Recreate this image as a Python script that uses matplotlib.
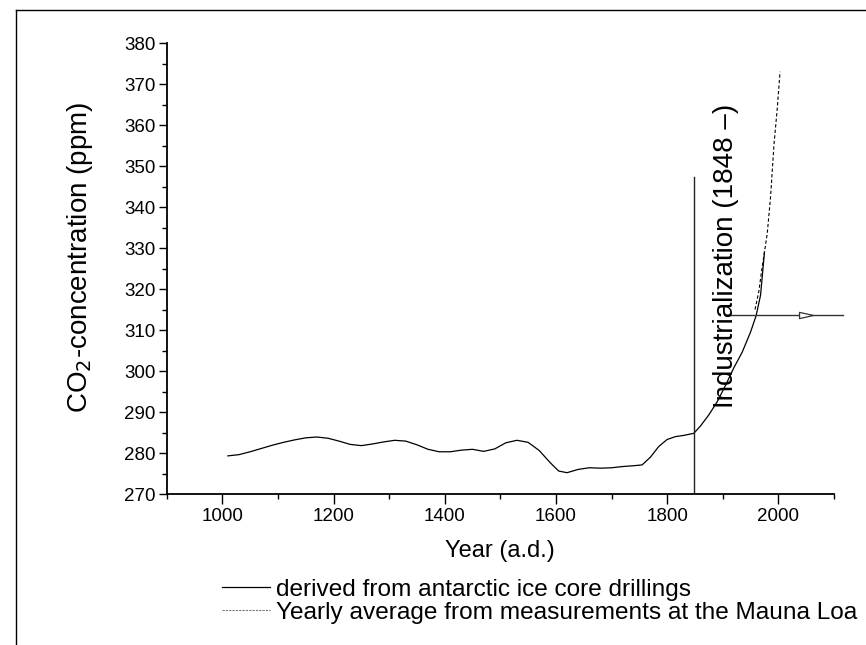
import matplotlib
matplotlib.use("Agg")
import matplotlib.pyplot as plt
from matplotlib.lines import Line2D
from matplotlib.path import Path
from matplotlib.ticker import MultipleLocator

plt.rcParams['font.family'] = ['Liberation Sans', 'DejaVu Sans']

# CO2 from antarctic ice cores (year, ppm)
ice_years = [1010, 1030, 1050, 1070, 1090, 1110, 1130, 1150, 1170, 1190,
             1210, 1230, 1250, 1270, 1290, 1310, 1330, 1350, 1370, 1390,
             1410, 1430, 1450, 1470, 1490, 1510, 1530, 1550, 1570, 1590,
             1605, 1620, 1640, 1660, 1680, 1700, 1720, 1740, 1755, 1770,
             1785, 1800, 1815, 1830, 1848, 1860, 1875, 1890, 1905, 1920,
             1935, 1950, 1960, 1968, 1975]
ice_ppm = [279.3, 279.6, 280.3, 281.1, 281.9, 282.6, 283.2, 283.7, 283.9, 283.6,
           282.9, 282.1, 281.8, 282.2, 282.7, 283.1, 282.9, 282.0, 280.9, 280.3,
           280.3, 280.7, 280.9, 280.4, 281.0, 282.5, 283.1, 282.6, 280.6, 277.6,
           275.6, 275.2, 276.0, 276.4, 276.3, 276.4, 276.7, 276.9, 277.1, 279.0,
           281.6, 283.3, 284.0, 284.3, 284.8, 286.6, 289.3, 292.5, 296.5, 300.8,
           304.6, 309.5, 313.5, 318.5, 329.0]

# Mauna Loa yearly averages
ml_years = [1958, 1965, 1970, 1975, 1980, 1986, 1992, 1998, 2003]
ml_ppm = [315.0, 319.5, 324.5, 329.0, 333.5, 342.5, 355.0, 364.0, 373.0]

industrial_year = 1848
industrial_top = 347.2
arrow_level = 313.7
arrow_span = (1908, 2116)
arrow_tip = 2050

fig = plt.figure(figsize=(8.66, 6.45), dpi=100)
ax = fig.add_axes([0.1925, 0.2341, 0.7705, 0.6992])

ax.plot(ice_years, ice_ppm, color='black', lw=0.9,
        label='derived from antarctic ice core drillings')
ax.plot(ml_years, ml_ppm, color='black', lw=0.8, ls=(0, (3, 2)))
# legend handle for the Mauna Loa series is a finer grey dash
ml_handle = Line2D([], [], color='#777777', lw=0.8, ls=(0, (2, 1)),
                   label='Yearly average from measurements at the Mauna Loa')

# industrialization marker
ax.plot([industrial_year, industrial_year], [270, industrial_top],
        color='#222222', lw=1.0)
ax.text(1882, 291, 'Industrialization (1848 \u2013)', rotation=90,
        fontsize=20, ha='left', va='bottom')
ax.plot(arrow_span, [arrow_level, arrow_level], color='#333333', lw=1.0,
        clip_on=False)
slim_head = Path([(-1, -0.45), (1, 0), (-1, 0.45), (-1, -0.45)],
                 [Path.MOVETO, Path.LINETO, Path.LINETO, Path.CLOSEPOLY])
ax.plot([arrow_tip], [arrow_level], marker=slim_head, ms=10, mfc='white',
        mec='#333333', mew=0.9, clip_on=False)

ax.set_xlim(900, 2100)
ax.set_ylim(270, 380)
ax.xaxis.set_minor_locator(MultipleLocator(100))
ax.yaxis.set_major_locator(MultipleLocator(10))
ax.yaxis.set_minor_locator(MultipleLocator(5))
ax.set_xticks([1000, 1200, 1400, 1600, 1800, 2000])
ax.tick_params(axis='x', which='major', length=7.2, width=1.0, labelsize=13.5, pad=3)
ax.tick_params(axis='x', which='minor', length=3.6, width=1.0)
ax.tick_params(axis='y', which='major', length=6.0, width=1.0, labelsize=13.5, pad=2)
ax.tick_params(axis='y', which='minor', length=3.6, width=1.0)

for side in ('top', 'right'):
    ax.spines[side].set_visible(False)
for side in ('left', 'bottom'):
    ax.spines[side].set_linewidth(1.3)

ax.set_xlabel('Year (a.d.)', fontsize=17, labelpad=11)
ax.set_ylabel('CO$_2$-concentration (ppm)', fontsize=20)
ax.yaxis.set_label_coords(-0.107, 0.525)

handles = [ax.lines[0], ml_handle]
fig.legend(handles=handles, loc='upper left', bbox_to_anchor=(0.2564, 0.103),
           frameon=False, fontsize=17.6, handlelength=1.97, handletextpad=0.25,
           labelspacing=0.03, borderpad=0, borderaxespad=0)

# outer frame around the drawing
fig.add_artist(Line2D([16 / 866, 16 / 866], [0, 1 - 10 / 645],
                      transform=fig.transFigure, color='black', lw=1.0))
fig.add_artist(Line2D([16 / 866, 1], [1 - 10 / 645, 1 - 10 / 645],
                      transform=fig.transFigure, color='black', lw=1.0))

fig.savefig('out.png', dpi=100)
